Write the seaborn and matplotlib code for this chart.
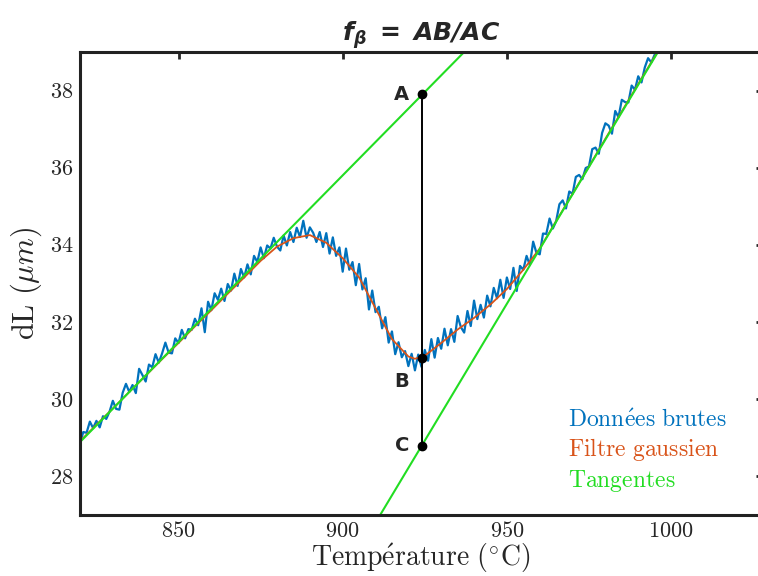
import numpy as np
import pandas as pd
import matplotlib
matplotlib.use("Agg")
import matplotlib.pyplot as plt
import seaborn as sns

# raw dilatometry signal, one reading per degree from 820 to 996 C
raw_temp = np.arange(820, 997)
raw_dl = [
    28.85, 29.14, 29.12, 29.41, 29.24, 29.43, 29.26, 29.55, 29.48, 29.67,
    29.95, 29.74, 29.72, 30.16, 30.39, 30.18, 30.36, 30.15, 30.78, 30.62,
    30.45, 30.89, 30.82, 31.16, 30.94, 31.18, 31.46, 31.20, 31.18, 31.57,
    31.45, 31.79, 31.57, 31.81, 31.79, 32.08, 31.91, 32.35, 31.73, 32.52,
    32.30, 32.74, 32.57, 32.86, 32.54, 32.98, 32.81, 33.25, 32.93, 33.37,
    33.15, 33.49, 33.23, 33.71, 33.55, 33.93, 33.65, 33.98, 33.90, 34.18,
    33.95, 33.85, 34.24, 33.98, 34.33, 34.07, 34.44, 34.20, 34.62, 34.18,
    34.45, 34.31, 34.07, 34.33, 33.94, 34.30, 33.77, 34.19, 33.71, 33.93,
    33.30, 33.90, 33.35, 33.55, 32.95, 33.50, 32.84, 33.13, 32.32, 32.81,
    32.25, 32.39, 31.83, 32.12, 31.46, 31.75, 31.16, 31.47, 31.08, 31.24,
    30.85, 31.17, 30.74, 31.15, 30.83, 31.27, 30.99, 31.55, 31.07, 31.58,
    31.30, 31.82, 31.39, 31.81, 31.48, 32.15, 31.86, 31.72, 32.28, 31.89,
    32.55, 32.07, 32.44, 32.11, 32.68, 32.40, 32.88, 32.61, 33.09, 32.62,
    33.15, 32.85, 33.40, 32.80, 33.45, 33.35, 33.71, 33.47, 34.08, 33.79,
    33.75, 34.29, 34.28, 34.68, 34.42, 34.61, 35.05, 35.15, 34.94, 35.38,
    35.32, 35.76, 35.81, 35.70, 35.99, 36.03, 36.48, 36.52, 36.36, 36.90,
    37.15, 37.09, 36.88, 37.47, 37.31, 37.76, 37.70, 37.69, 38.13, 38.02,
    38.37, 38.21, 38.60, 38.84, 38.73, 38.93, 39.02,
]

# gaussian-filtered curve
smooth_temp = [820, 825, 830, 835, 840, 845, 850, 855, 860, 865, 870, 875,
               880, 885, 890, 895, 900, 905, 910, 915, 920, 922, 925, 930,
               935, 940, 945, 950, 955, 960, 965, 970, 975, 980, 985, 990, 996]
smooth_dl = [28.90, 29.33, 29.75, 30.18, 30.60, 31.03, 31.45, 31.88, 32.30,
             32.73, 33.15, 33.58, 33.95, 34.17, 34.25, 34.05, 33.65, 33.15,
             32.35, 31.55, 31.10, 31.04, 31.12, 31.45, 31.80, 32.10, 32.45,
             32.85, 33.35, 33.90, 34.61, 35.32, 36.03, 36.75, 37.46, 38.17,
             39.02]

# tangent lines
tan1_temp = [820, 937]
tan1_dl = [28.88, 39.0]
tan2_temp = [911.5, 996]
tan2_dl = [27.0, 39.0]

# points A, B, C
point_temp = 924
point_names = ["A", "B", "C"]
point_dl = [37.9, 31.06, 28.78]

xticks = [850, 900, 950, 1000]
yticks = [28, 30, 32, 34, 36, 38]

blue = "#0072BD"
red = "#D95319"
green = "#22DD22"

sns.set_theme(style="white")
plt.rcParams["font.family"] = ["cmr10", "DejaVu Serif"]
plt.rcParams["mathtext.fontset"] = "cm"
plt.rcParams["axes.formatter.use_mathtext"] = True

fig = plt.figure(figsize=(7.58, 5.76), dpi=100)
ax = fig.add_axes([80 / 758, 61.5 / 576, 683 / 758, 462.5 / 576])

raw = pd.DataFrame({"temp": raw_temp, "dl": raw_dl})
smooth = pd.DataFrame({"temp": smooth_temp, "dl": smooth_dl})

sns.lineplot(data=raw, x="temp", y="dl", color=blue, lw=1.6, ax=ax,
             label=r"$\mathrm{Donn\acute{e}es\ brutes}$")
sns.lineplot(data=smooth, x="temp", y="dl", color=red, lw=1.3, ax=ax,
             label=r"$\mathrm{Filtre\ gaussien}$")
sns.lineplot(x=tan1_temp, y=tan1_dl, color=green, lw=1.5, ax=ax,
             label=r"$\mathrm{Tangentes}$")
sns.lineplot(x=tan2_temp, y=tan2_dl, color=green, lw=1.5, ax=ax)

ax.plot([point_temp, point_temp], [point_dl[0], point_dl[2]], color="black", lw=1.4)
ax.plot([point_temp] * 3, point_dl, "o", color="black", ms=6)

offsets = {"A": (-9, 0), "B": (-9, -17), "C": (-9, 0)}
for name, val in zip(point_names, point_dl):
    ax.annotate(name, (point_temp, val), xytext=offsets[name],
                textcoords="offset points", ha="right", va="center",
                fontsize=14, fontweight="bold", family="DejaVu Sans")

ax.set_xlim(820, 1028)
ax.set_ylim(27, 39)
ax.set_xticks(xticks)
ax.set_yticks(yticks)
ax.tick_params(direction="in", length=5, width=2, labelsize=16,
               top=True, right=True, pad=5)
for sp in ax.spines.values():
    sp.set_linewidth(2.2)
    sp.set_color("#222222")

ax.set_xlabel(r"$\mathrm{Temp\acute{e}rature\ (^{\circ}C)}$", fontsize=20)
ax.xaxis.set_label_coords(0.499, -0.058)
ax.set_ylabel(r"$\mathrm{dL}\ (\mu m)$", fontsize=22, labelpad=4)
ax.set_title(r"$\mathbfit{f_{\beta}\ =\ AB/AC}$", fontsize=18, pad=8,
             math_fontfamily="dejavusans")

leg = ax.legend(loc="upper left", bbox_to_anchor=(0.715, 0.228), frameon=False,
                handlelength=0, handletextpad=0, borderaxespad=0, borderpad=0,
                labelspacing=0.2, fontsize=17, labelcolor="linecolor")
for h in leg.legend_handles:
    h.set_visible(False)

fig.savefig("out.png", dpi=100)
